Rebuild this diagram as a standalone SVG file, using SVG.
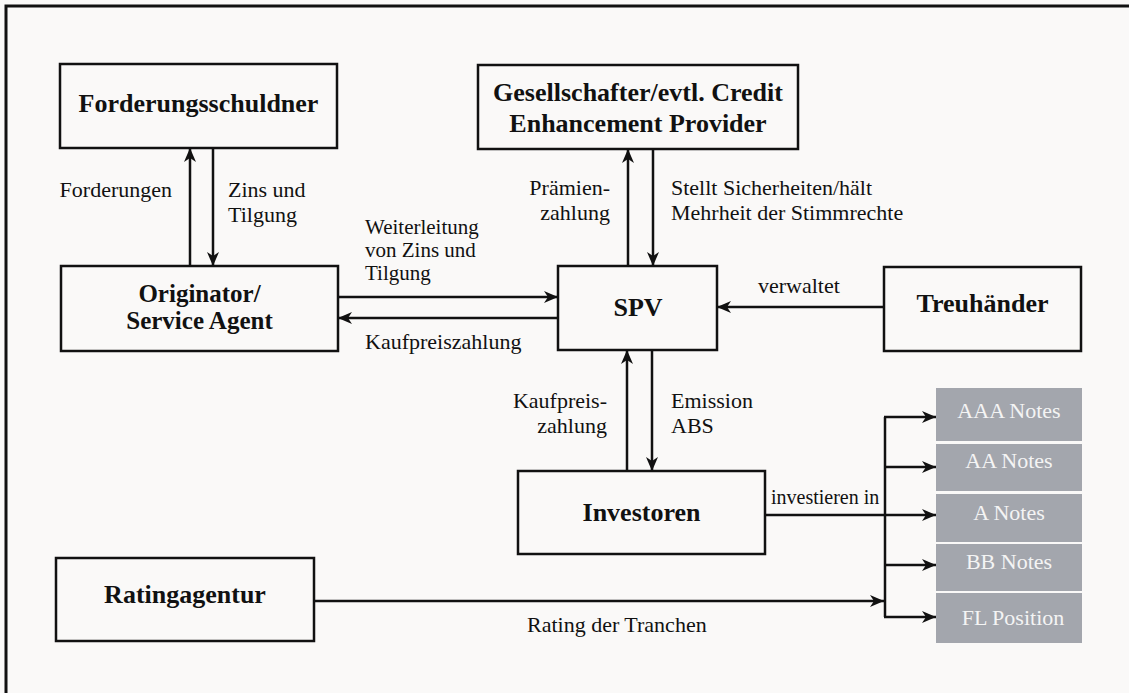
<svg xmlns="http://www.w3.org/2000/svg" width="1129" height="693" viewBox="0 0 1129 693">
  <style>
    .box { fill: none; stroke: #111; stroke-width: 2.5; }
    .note { fill: #a3a6ad; }
    .title { font-family: "Liberation Serif", "Times New Roman", serif; font-weight: bold; font-size: 26px; fill: #111; text-anchor: middle; }
    .lbl { font-family: "Liberation Serif", "Times New Roman", serif; font-size: 22px; fill: #111; }
    .small { font-size: 21px; }
    .end { text-anchor: end; }
    .notetxt { font-family: "Liberation Serif", "Times New Roman", serif; font-size: 22px; fill: #f4f4f4; text-anchor: middle; }
    .con { fill: none; stroke: #111; stroke-width: 2.5; }
  </style>
  <defs>
    <marker id="arrow" markerUnits="userSpaceOnUse" markerWidth="16" markerHeight="14" refX="14" refY="6" orient="auto">
      <path d="M0,0 L14,6 L0,12 L4,6 Z" fill="#111"/>
    </marker>
  </defs>

  <!-- background and frame -->
  <rect x="0" y="0" width="1129" height="693" fill="#faf9f8"/>
  <path d="M6,693 V6 H1129" fill="none" stroke="#111" stroke-width="3"/>

  <!-- nodes -->
  <g id="forderungsschuldner">
    <rect class="box" x="60" y="64" width="277" height="84"/>
    <text class="title" x="198.5" y="112">Forderungsschuldner</text>
  </g>
  <g id="gesellschafter">
    <rect class="box" x="478" y="65" width="320" height="84"/>
    <text class="title" x="638" y="101">Gesellschafter/evtl. Credit</text>
    <text class="title" x="638" y="132">Enhancement Provider</text>
  </g>
  <g id="originator">
    <rect class="box" x="61" y="266" width="277" height="85"/>
    <text class="title" x="199.5" y="302" style="font-size:25px">Originator/</text>
    <text class="title" x="199.5" y="329" style="font-size:25px">Service Agent</text>
  </g>
  <g id="spv">
    <rect class="box" x="558" y="266" width="159" height="84"/>
    <text class="title" x="638" y="316">SPV</text>
  </g>
  <g id="treuhaender">
    <rect class="box" x="884" y="267" width="197" height="84"/>
    <text class="title" x="982.5" y="312">Treuhänder</text>
  </g>
  <g id="investoren">
    <rect class="box" x="518" y="471" width="247" height="83"/>
    <text class="title" x="641.5" y="521">Investoren</text>
  </g>
  <g id="ratingagentur">
    <rect class="box" x="56" y="558" width="258" height="83"/>
    <text class="title" x="185" y="603">Ratingagentur</text>
  </g>
  <g id="tranchen">
    <rect class="note" x="936" y="388" width="146" height="53"/>
    <rect class="note" x="936" y="444" width="146" height="47"/>
    <rect class="note" x="936" y="494" width="146" height="48"/>
    <rect class="note" x="936" y="544" width="146" height="47"/>
    <rect class="note" x="936" y="593" width="146" height="50"/>
    <text class="notetxt" x="1009" y="418">AAA Notes</text>
    <text class="notetxt" x="1009" y="468">AA Notes</text>
    <text class="notetxt" x="1009" y="520">A Notes</text>
    <text class="notetxt" x="1009" y="569">BB Notes</text>
    <text class="notetxt" x="1013" y="625">FL Position</text>
  </g>

  <!-- connectors -->
  <g id="connectors">
    <line class="con" x1="190" y1="266" x2="190" y2="148" marker-end="url(#arrow)"/>
    <line class="con" x1="213" y1="148" x2="213" y2="266" marker-end="url(#arrow)"/>
    <line class="con" x1="338" y1="297" x2="558" y2="297" marker-end="url(#arrow)"/>
    <line class="con" x1="558" y1="318" x2="338" y2="318" marker-end="url(#arrow)"/>
    <line class="con" x1="628" y1="266" x2="628" y2="149" marker-end="url(#arrow)"/>
    <line class="con" x1="653" y1="149" x2="653" y2="266" marker-end="url(#arrow)"/>
    <line class="con" x1="627" y1="471" x2="627" y2="350" marker-end="url(#arrow)"/>
    <line class="con" x1="652" y1="350" x2="652" y2="471" marker-end="url(#arrow)"/>
    <line class="con" x1="884" y1="307" x2="717" y2="307" marker-end="url(#arrow)"/>
    <line class="con" x1="765" y1="515" x2="936" y2="515" marker-end="url(#arrow)"/>
    <line class="con" x1="885" y1="417" x2="885" y2="617"/>
    <line class="con" x1="884" y1="417" x2="936" y2="417" marker-end="url(#arrow)"/>
    <line class="con" x1="884" y1="467" x2="936" y2="467" marker-end="url(#arrow)"/>
    <line class="con" x1="884" y1="565" x2="936" y2="565" marker-end="url(#arrow)"/>
    <line class="con" x1="884" y1="617" x2="936" y2="617" marker-end="url(#arrow)"/>
    <line class="con" x1="314" y1="601" x2="884" y2="601" marker-end="url(#arrow)"/>

    <text class="lbl end" x="172" y="197">Forderungen</text>
    <text class="lbl" x="228" y="197">Zins und</text>
    <text class="lbl" x="228" y="222">Tilgung</text>
    <text class="lbl end" x="610" y="195">Prämien-</text>
    <text class="lbl end" x="610" y="220">zahlung</text>
    <text class="lbl" x="671" y="195">Stellt Sicherheiten/hält</text>
    <text class="lbl" x="671" y="220">Mehrheit der Stimmrechte</text>
    <text class="lbl small" x="365" y="234">Weiterleitung</text>
    <text class="lbl small" x="365" y="257">von Zins und</text>
    <text class="lbl small" x="365" y="280">Tilgung</text>
    <text class="lbl" x="365" y="349">Kaufpreiszahlung</text>
    <text class="lbl" x="758" y="293">verwaltet</text>
    <text class="lbl end" x="607" y="408">Kaufpreis-</text>
    <text class="lbl end" x="607" y="433">zahlung</text>
    <text class="lbl" x="671" y="408">Emission</text>
    <text class="lbl" x="671" y="433">ABS</text>
    <text class="lbl" x="771" y="504" style="font-size:20px">investieren in</text>
    <text class="lbl" x="527" y="632">Rating der Tranchen</text>
  </g>
</svg>
